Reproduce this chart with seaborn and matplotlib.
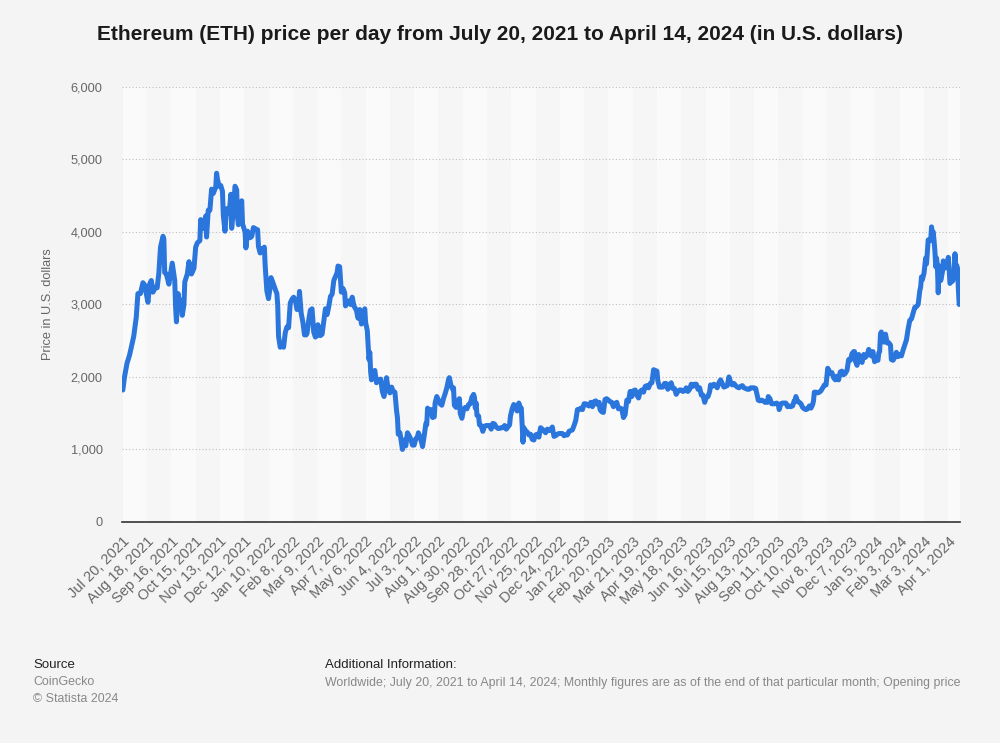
import pandas as pd
import numpy as np
import matplotlib.pyplot as plt
import matplotlib.dates as mdates
from matplotlib.ticker import FuncFormatter
import seaborn as sns

# ------------------------------------------------------------------
# data (opening price, USD)
# ------------------------------------------------------------------
DATES = [
    # 2021
    "2021-07-20", "2021-07-22", "2021-07-25", "2021-07-28", "2021-07-31", "2021-08-02", "2021-08-05",
    "2021-08-07", "2021-08-10", "2021-08-13", "2021-08-15", "2021-08-17", "2021-08-19", "2021-08-21",
    "2021-08-23", "2021-08-25", "2021-08-28", "2021-08-30", "2021-09-01", "2021-09-03", "2021-09-06",
    "2021-09-07", "2021-09-08", "2021-09-10", "2021-09-13", "2021-09-15", "2021-09-17", "2021-09-20",
    "2021-09-21", "2021-09-22", "2021-09-24", "2021-09-26", "2021-09-28", "2021-09-29", "2021-10-01",
    "2021-10-02", "2021-10-05", "2021-10-07", "2021-10-10", "2021-10-13", "2021-10-15", "2021-10-17",
    "2021-10-20", "2021-10-21", "2021-10-22", "2021-10-24", "2021-10-27", "2021-10-28", "2021-10-30",
    "2021-11-01", "2021-11-03", "2021-11-05", "2021-11-08", "2021-11-09", "2021-11-10", "2021-11-12",
    "2021-11-14", "2021-11-16", "2021-11-17", "2021-11-19", "2021-11-21", "2021-11-24", "2021-11-26",
    "2021-11-27", "2021-11-29", "2021-12-01", "2021-12-03", "2021-12-04", "2021-12-05", "2021-12-07",
    "2021-12-09", "2021-12-10", "2021-12-13", "2021-12-14", "2021-12-16", "2021-12-19", "2021-12-21",
    "2021-12-23", "2021-12-26", "2021-12-28", "2021-12-29", "2021-12-31",
    # 2022
    "2022-01-02", "2022-01-04", "2022-01-05", "2022-01-06", "2022-01-08", "2022-01-10", "2022-01-12",
    "2022-01-13", "2022-01-15", "2022-01-18", "2022-01-20", "2022-01-21", "2022-01-22", "2022-01-24",
    "2022-01-26", "2022-01-28", "2022-01-30", "2022-02-01", "2022-02-03", "2022-02-05", "2022-02-07",
    "2022-02-09", "2022-02-11", "2022-02-13", "2022-02-15", "2022-02-16", "2022-02-18", "2022-02-20",
    "2022-02-22", "2022-02-24", "2022-02-25", "2022-02-27", "2022-03-01", "2022-03-03", "2022-03-05",
    "2022-03-07", "2022-03-09", "2022-03-10", "2022-03-13", "2022-03-15", "2022-03-17", "2022-03-19",
    "2022-03-21", "2022-03-23", "2022-03-25", "2022-03-27", "2022-03-29", "2022-04-02", "2022-04-03",
    "2022-04-05", "2022-04-07", "2022-04-09", "2022-04-11", "2022-04-12", "2022-04-14", "2022-04-16",
    "2022-04-18", "2022-04-20", "2022-04-22", "2022-04-25", "2022-04-27", "2022-04-29", "2022-05-01",
    "2022-05-03", "2022-05-05", "2022-05-06", "2022-05-08", "2022-05-10", "2022-05-11", "2022-05-12",
    "2022-05-13", "2022-05-15", "2022-05-17", "2022-05-19", "2022-05-21", "2022-05-24", "2022-05-26",
    "2022-05-28", "2022-05-31", "2022-06-02", "2022-06-04", "2022-06-06", "2022-06-08", "2022-06-10",
    "2022-06-11", "2022-06-12", "2022-06-13", "2022-06-14", "2022-06-16", "2022-06-18", "2022-06-19",
    "2022-06-21", "2022-06-23", "2022-06-25", "2022-06-27", "2022-06-29", "2022-07-01", "2022-07-03",
    "2022-07-05", "2022-07-07", "2022-07-08", "2022-07-10", "2022-07-12", "2022-07-13", "2022-07-15",
    "2022-07-17", "2022-07-18", "2022-07-19", "2022-07-21", "2022-07-23", "2022-07-25", "2022-07-27",
    "2022-07-28", "2022-07-30", "2022-08-01", "2022-08-03", "2022-08-05", "2022-08-07", "2022-08-09",
    "2022-08-11", "2022-08-13", "2022-08-14", "2022-08-16", "2022-08-18", "2022-08-19", "2022-08-20",
    "2022-08-22", "2022-08-24", "2022-08-26", "2022-08-27", "2022-08-29", "2022-08-31", "2022-09-02",
    "2022-09-04", "2022-09-06", "2022-09-08", "2022-09-10", "2022-09-12", "2022-09-13", "2022-09-14",
    "2022-09-15", "2022-09-16", "2022-09-18", "2022-09-19", "2022-09-21", "2022-09-23", "2022-09-25",
    "2022-09-27", "2022-09-29", "2022-10-01", "2022-10-03", "2022-10-05", "2022-10-07", "2022-10-09",
    "2022-10-11", "2022-10-13", "2022-10-15", "2022-10-17", "2022-10-19", "2022-10-21", "2022-10-23",
    "2022-10-25", "2022-10-26", "2022-10-28", "2022-10-30", "2022-11-01", "2022-11-03", "2022-11-05",
    "2022-11-07", "2022-11-08", "2022-11-09", "2022-11-10", "2022-11-11", "2022-11-13", "2022-11-15",
    "2022-11-17", "2022-11-19", "2022-11-21", "2022-11-23", "2022-11-25", "2022-11-27", "2022-11-29",
    "2022-12-01", "2022-12-03", "2022-12-05", "2022-12-07", "2022-12-09", "2022-12-11", "2022-12-13",
    "2022-12-15", "2022-12-17", "2022-12-19", "2022-12-21", "2022-12-23", "2022-12-25", "2022-12-27",
    "2022-12-29", "2022-12-31",
    # 2023
    "2023-01-02", "2023-01-04", "2023-01-06", "2023-01-08", "2023-01-10", "2023-01-12", "2023-01-14",
    "2023-01-16", "2023-01-18", "2023-01-20", "2023-01-22", "2023-01-24", "2023-01-26", "2023-01-28",
    "2023-01-30", "2023-02-01", "2023-02-03", "2023-02-05", "2023-02-07", "2023-02-09", "2023-02-10",
    "2023-02-12", "2023-02-14", "2023-02-16", "2023-02-18", "2023-02-20", "2023-02-22", "2023-02-24",
    "2023-02-26", "2023-02-28", "2023-03-02", "2023-03-04", "2023-03-06", "2023-03-08", "2023-03-10",
    "2023-03-12", "2023-03-14", "2023-03-16", "2023-03-18", "2023-03-20", "2023-03-22", "2023-03-24",
    "2023-03-26", "2023-03-28", "2023-03-30", "2023-04-01", "2023-04-03", "2023-04-05", "2023-04-07",
    "2023-04-09", "2023-04-11", "2023-04-13", "2023-04-14", "2023-04-15", "2023-04-17", "2023-04-19",
    "2023-04-20", "2023-04-22", "2023-04-24", "2023-04-26", "2023-04-28", "2023-04-30", "2023-05-02",
    "2023-05-04", "2023-05-06", "2023-05-08", "2023-05-10", "2023-05-12", "2023-05-14", "2023-05-16",
    "2023-05-18", "2023-05-20", "2023-05-22", "2023-05-24", "2023-05-26", "2023-05-28", "2023-05-30",
    "2023-06-01", "2023-06-03", "2023-06-05", "2023-06-07", "2023-06-09", "2023-06-11", "2023-06-13",
    "2023-06-15", "2023-06-17", "2023-06-19", "2023-06-21", "2023-06-22", "2023-06-24", "2023-06-26",
    "2023-06-28", "2023-06-30", "2023-07-02", "2023-07-04", "2023-07-06", "2023-07-08", "2023-07-10",
    "2023-07-12", "2023-07-14", "2023-07-16", "2023-07-18", "2023-07-20", "2023-07-22", "2023-07-24",
    "2023-07-26", "2023-07-28", "2023-07-30", "2023-08-01", "2023-08-03", "2023-08-05", "2023-08-07",
    "2023-08-09", "2023-08-11", "2023-08-13", "2023-08-15", "2023-08-17", "2023-08-18", "2023-08-20",
    "2023-08-22", "2023-08-24", "2023-08-26", "2023-08-28", "2023-08-29", "2023-08-30", "2023-09-01",
    "2023-09-03", "2023-09-05", "2023-09-07", "2023-09-09", "2023-09-11", "2023-09-12", "2023-09-14",
    "2023-09-16", "2023-09-18", "2023-09-20", "2023-09-22", "2023-09-24", "2023-09-26", "2023-09-28",
    "2023-09-30", "2023-10-01", "2023-10-02", "2023-10-04", "2023-10-06", "2023-10-08", "2023-10-10",
    "2023-10-12", "2023-10-14", "2023-10-16", "2023-10-18", "2023-10-20", "2023-10-22", "2023-10-23",
    "2023-10-24", "2023-10-26", "2023-10-28", "2023-10-30", "2023-11-01", "2023-11-03", "2023-11-05",
    "2023-11-07", "2023-11-09", "2023-11-10", "2023-11-12", "2023-11-14", "2023-11-16", "2023-11-18",
    "2023-11-20", "2023-11-22", "2023-11-24", "2023-11-26", "2023-11-28", "2023-11-30", "2023-12-02",
    "2023-12-04", "2023-12-06", "2023-12-08", "2023-12-10", "2023-12-11", "2023-12-12", "2023-12-14",
    "2023-12-16", "2023-12-18", "2023-12-20", "2023-12-22", "2023-12-24", "2023-12-26", "2023-12-28",
    "2023-12-29", "2023-12-31",
    # 2024
    "2024-01-02", "2024-01-04", "2024-01-06", "2024-01-08", "2024-01-09", "2024-01-10", "2024-01-11",
    "2024-01-12", "2024-01-13", "2024-01-15", "2024-01-17", "2024-01-19", "2024-01-21", "2024-01-23",
    "2024-01-24", "2024-01-26", "2024-01-28", "2024-01-30", "2024-02-01", "2024-02-03", "2024-02-05",
    "2024-02-07", "2024-02-09", "2024-02-11", "2024-02-13", "2024-02-15", "2024-02-17", "2024-02-19",
    "2024-02-21", "2024-02-23", "2024-02-25", "2024-02-27", "2024-02-28", "2024-02-29", "2024-03-01",
    "2024-03-03", "2024-03-05", "2024-03-06", "2024-03-08", "2024-03-10", "2024-03-11", "2024-03-12",
    "2024-03-13", "2024-03-14", "2024-03-15", "2024-03-16", "2024-03-17", "2024-03-18", "2024-03-19",
    "2024-03-20", "2024-03-21", "2024-03-22", "2024-03-23", "2024-03-25", "2024-03-26", "2024-03-27",
    "2024-03-28", "2024-03-29", "2024-03-31", "2024-04-01", "2024-04-02", "2024-04-03", "2024-04-04",
    "2024-04-05", "2024-04-06", "2024-04-07", "2024-04-08", "2024-04-09", "2024-04-10", "2024-04-11",
    "2024-04-12", "2024-04-13", "2024-04-14",
]

PRICES = [
    # 2021
    1820, 2000, 2190, 2300, 2460, 2560, 2820,
    3150, 3150, 3300, 3270, 3150, 3030, 3280,
    3330, 3170, 3240, 3230, 3430, 3790, 3940,
    3900, 3440, 3420, 3280, 3430, 3570, 3330,
    2970, 2760, 3150, 2930, 3060, 2850, 3000,
    3310, 3420, 3590, 3420, 3500, 3790, 3850,
    3880, 4170, 4060, 4050, 4220, 3930, 4300,
    4300, 4590, 4530, 4620, 4810, 4730, 4630,
    4640, 4560, 4230, 4010, 4320, 4260, 4520,
    4050, 4300, 4630, 4580, 4200, 4100, 4300,
    4430, 4110, 4000, 3780, 4010, 3920, 3940,
    4060, 4040, 4030, 3800, 3710,
    # 2022
    3770, 3770, 3790, 3540, 3190, 3080, 3240,
    3370, 3310, 3210, 3150, 2990, 2560, 2410,
    2460, 2410, 2610, 2690, 2680, 3020, 3070,
    3100, 3070, 2930, 2940, 3180, 2880, 2760,
    2580, 2580, 2600, 2780, 2920, 2940, 2620,
    2550, 2570, 2720, 2570, 2590, 2770, 2940,
    2860, 2970, 3110, 3140, 3330, 3440, 3530,
    3520, 3170, 3220, 3160, 2980, 3020, 3050,
    3000, 3100, 2980, 2920, 2810, 2930, 2730,
    2860, 2940, 2750, 2640, 2240, 2340, 2070,
    1960, 2060, 2090, 1920, 1960, 1970, 1800,
    1730, 1990, 1820, 1780, 1860, 1800, 1790,
    1660, 1530, 1440, 1210, 1230, 1070, 1000,
    1130, 1050, 1230, 1190, 1140, 1060, 1060,
    1150, 1170, 1230, 1170, 1090, 1040, 1190,
    1360, 1340, 1570, 1530, 1550, 1440, 1450,
    1640, 1730, 1680, 1630, 1610, 1700, 1770,
    1850, 1960, 1990, 1880, 1830, 1850, 1610,
    1580, 1660, 1700, 1500, 1430, 1550, 1580,
    1560, 1620, 1630, 1720, 1760, 1720, 1570,
    1640, 1470, 1460, 1340, 1330, 1250, 1320,
    1330, 1330, 1330, 1280, 1360, 1350, 1310,
    1290, 1290, 1300, 1300, 1330, 1280, 1310,
    1340, 1460, 1560, 1620, 1570, 1530, 1640,
    1570, 1570, 1330, 1100, 1300, 1260, 1240,
    1200, 1210, 1140, 1130, 1200, 1210, 1170,
    1300, 1280, 1260, 1230, 1280, 1260, 1270,
    1310, 1180, 1190, 1210, 1220, 1220, 1220,
    1190, 1200,
    # 2023
    1200, 1250, 1260, 1270, 1330, 1400, 1550,
    1550, 1570, 1550, 1630, 1630, 1610, 1600,
    1650, 1590, 1660, 1670, 1620, 1650, 1550,
    1520, 1510, 1690, 1700, 1680, 1660, 1650,
    1590, 1630, 1650, 1560, 1570, 1560, 1440,
    1480, 1680, 1660, 1800, 1730, 1810, 1820,
    1750, 1710, 1800, 1820, 1790, 1870, 1880,
    1850, 1910, 1920, 2010, 2100, 2090, 2080,
    1950, 1860, 1860, 1860, 1910, 1910, 1830,
    1880, 1920, 1840, 1840, 1760, 1800, 1820,
    1820, 1800, 1810, 1850, 1800, 1830, 1900,
    1870, 1900, 1900, 1830, 1850, 1750, 1750,
    1650, 1720, 1730, 1800, 1890, 1870, 1900,
    1880, 1850, 1920, 1960, 1910, 1860, 1870,
    1880, 2000, 1930, 1890, 1910, 1880, 1860,
    1850, 1870, 1880, 1850, 1840, 1830, 1830,
    1850, 1850, 1850, 1840, 1730, 1680, 1670,
    1680, 1670, 1650, 1650, 1650, 1730, 1700,
    1630, 1630, 1630, 1640, 1620, 1550, 1630,
    1640, 1640, 1640, 1590, 1600, 1590, 1600,
    1670, 1670, 1730, 1660, 1650, 1630, 1580,
    1560, 1550, 1560, 1600, 1570, 1620, 1670,
    1790, 1790, 1780, 1790, 1810, 1850, 1890,
    1890, 2120, 2100, 2050, 2060, 1990, 1960,
    2010, 1960, 2070, 2080, 2030, 2050, 2090,
    2240, 2230, 2320, 2350, 2350, 2220, 2160,
    2310, 2230, 2200, 2310, 2270, 2300, 2380,
    2350, 2290,
    # 2024
    2350, 2210, 2240, 2230, 2330, 2350, 2590,
    2620, 2520, 2480, 2590, 2470, 2470, 2440,
    2240, 2230, 2270, 2340, 2280, 2310, 2290,
    2370, 2440, 2510, 2660, 2780, 2800, 2880,
    2960, 2970, 3000, 3190, 3240, 3380, 3340,
    3430, 3640, 3560, 3890, 3880, 3880, 4070,
    3980, 4000, 3880, 3740, 3520, 3640, 3520,
    3160, 3530, 3500, 3330, 3450, 3600, 3590,
    3500, 3560, 3510, 3650, 3500, 3290, 3310,
    3330, 3320, 3350, 3460, 3700, 3510, 3540,
    3500, 3230, 3000,
]

TITLE = "Ethereum (ETH) price per day from July 20, 2021 to April 14, 2024 (in U.S. dollars)"
Y_LABEL = "Price in U.S. dollars"
Y_TICKS = [0, 1000, 2000, 3000, 4000, 5000, 6000]
START, END = "2021-07-20", "2024-04-14"
TICK_STEP_DAYS = 29

LINE_COLOR = "#2a76dd"
TEXT_GRAY = "#666666"

df = pd.DataFrame({"date": pd.to_datetime(DATES), "price": PRICES})
ticks = pd.date_range(START, END, freq=f"{TICK_STEP_DAYS}D")

# ------------------------------------------------------------------
# plot
# ------------------------------------------------------------------
sns.set_theme(style="white")
plt.rcParams["font.family"] = ["Liberation Sans", "DejaVu Sans"]

fig = plt.figure(figsize=(10, 7.43), dpi=100, facecolor="#f4f4f4")
ax = fig.add_axes([0.122, 0.2975, 0.838, 0.5855])
ax.set_facecolor("#f4f4f4")

# alternating background bands between the date ticks
edges = list(ticks) + [pd.Timestamp(END) + pd.Timedelta(days=1)]
for i in range(len(edges) - 1):
    ax.axvspan(edges[i], edges[i + 1], color="#fafafa" if i % 2 == 0 else "#f6f6f6",
               lw=0, zorder=0)

sns.lineplot(data=df, x="date", y="price", ax=ax, color=LINE_COLOR, linewidth=3.6,
             solid_joinstyle="round", solid_capstyle="round", zorder=3)

ax.set_xlim(pd.Timestamp(START) - pd.Timedelta(days=1), pd.Timestamp(END) + pd.Timedelta(days=1))
ax.set_ylim(0, 6000)
ax.set_yticks(Y_TICKS)
ax.yaxis.set_major_formatter(FuncFormatter(lambda v, _: f"{int(v):,}"))
ax.yaxis.grid(True, color="#bdbdbd", linestyle=(0, (1, 2)), linewidth=0.8, zorder=1)
ax.set_axisbelow(True)

ax.set_xticks(ticks)
ax.set_xticklabels([f"{d.strftime('%b')} {d.day}, {d.year}" for d in ticks],
                   rotation=45, ha="right", rotation_mode="anchor")
ax.tick_params(axis="x", length=0, pad=9, labelsize=10.5, labelcolor=TEXT_GRAY)
ax.tick_params(axis="y", length=0, pad=14, labelsize=9.2, labelcolor=TEXT_GRAY)

for s in ["top", "right", "left"]:
    ax.spines[s].set_visible(False)
ax.spines["bottom"].set_color("#333333")
ax.spines["bottom"].set_linewidth(1.2)
ax.spines["bottom"].set_zorder(4)

ax.set_xlabel("")
ax.set_ylabel(Y_LABEL, color=TEXT_GRAY, fontsize=9.2, labelpad=12)

fig.text(0.5, 0.953, TITLE, ha="center", va="center", fontsize=15, weight="bold", color="#1a1a1a")

# footer
fig.text(0.033, 0.105, "Source", fontsize=9.5, color="#222222", va="center")
fig.text(0.033, 0.082, "CoinGecko", fontsize=8.9, color="#888888", va="center")
fig.text(0.033, 0.059, "© Statista 2024", fontsize=8.9, color="#888888", va="center")
fig.text(0.325, 0.105, "Additional Information:", fontsize=9.5, color="#222222", va="center")
fig.text(0.325, 0.081,
         "Worldwide; July 20, 2021 to April 14, 2024; Monthly figures are as of the end of "
         "that particular month; Opening price",
         fontsize=8.9, color="#888888", va="center")

plt.savefig("out.png", dpi=100, facecolor=fig.get_facecolor())
